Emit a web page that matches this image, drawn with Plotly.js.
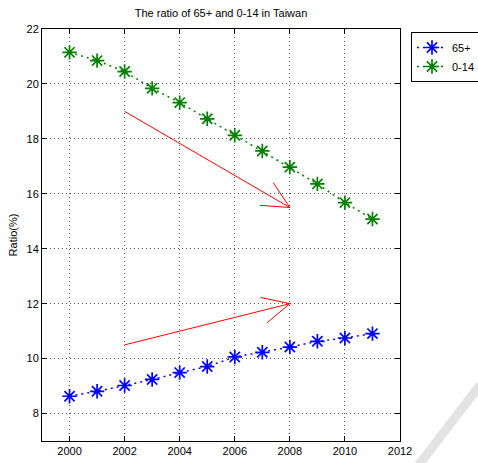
<!DOCTYPE html>
<html>
<head>
<meta charset="utf-8">
<script src="https://cdn.plot.ly/plotly-3.0.1.min.js"></script>
<style>html,body{margin:0;padding:0;background:#fff;}#chart{width:478px;height:463px;}</style>
</head>
<body>
<div id="chart"></div>
<script>
var years = [2000, 2001, 2002, 2003, 2004, 2005, 2006, 2007, 2008, 2009, 2010, 2011];
var ratio65 = [8.63, 8.81, 9.02, 9.24, 9.49, 9.71, 10.06, 10.23, 10.42, 10.63, 10.75, 10.91];
var ratio014 = [21.15, 20.85, 20.45, 19.84, 19.32, 18.73, 18.13, 17.56, 16.97, 16.36, 15.68, 15.08];
var arrowStartX = [2002, 2002];
var arrowStartY = [19.0, 10.5];
var arrowEndX = [2008, 2008];
var arrowEndY = [15.5, 12.0];

var W = 478, H = 463;
var M = {l: 42, r: 78, t: 29, b: 22, autoexpand: false};
var xr = [1999, 2012], yr = [7, 22];
var pw = W - M.l - M.r, ph = H - M.t - M.b;
var sx = pw / (xr[1] - xr[0]), sy = ph / (yr[1] - yr[0]);

var shapes = [];
for (var i = 0; i < arrowStartX.length; i++) {
  shapes.push({type: 'line', xref: 'x', yref: 'y', x0: arrowStartX[i], y0: arrowStartY[i], x1: arrowEndX[i], y1: arrowEndY[i], line: {color: '#ff0000', width: 1}});
  var dxp = (arrowEndX[i] - arrowStartX[i]) * sx;
  var dyp = (arrowEndY[i] - arrowStartY[i]) * sy;
  var ang = Math.atan2(dyp, dxp) + Math.PI;
  var L = 30, spread = 26 * Math.PI / 180;
  [ang - spread, ang + spread].forEach(function (a) {
    shapes.push({type: 'line', xref: 'x', yref: 'y', x0: arrowEndX[i], y0: arrowEndY[i],
      x1: arrowEndX[i] + L * Math.cos(a) / sx, y1: arrowEndY[i] + L * Math.sin(a) / sy,
      line: {color: '#ff0000', width: 1}});
  });
}
shapes.push({type: 'line', xref: 'paper', yref: 'paper',
  x0: (480 - M.l) / pw, y0: (H - M.b - 385) / ph, x1: (418 - M.l) / pw, y1: (H - M.b - 466) / ph,
  line: {color: '#e3e3e3', width: 9}, layer: 'below'});

var traces = [
  {x: years, y: ratio65, name: '65+', mode: 'lines+markers', type: 'scatter',
   line: {color: '#0000ff', width: 1.5, dash: '2px,4px'},
   marker: {symbol: 'asterisk-open', size: 12, color: '#0000ff', line: {color: '#0000ff', width: 1.7}}},
  {x: years, y: ratio014, name: '0-14', mode: 'lines+markers', type: 'scatter',
   line: {color: '#008000', width: 1.5, dash: '2px,4px'},
   marker: {symbol: 'asterisk-open', size: 12, color: '#008000', line: {color: '#008000', width: 1.7}}}
];

var axisCommon = {
  showline: true, linecolor: '#000', linewidth: 1, mirror: 'ticks',
  ticks: 'inside', ticklen: 5, tickcolor: '#000', tickwidth: 1,
  showgrid: true, gridcolor: '#555', gridwidth: 1, griddash: '1px,3px',
  zeroline: false, tickfont: {family: 'Liberation Sans, Arial, sans-serif', size: 11, color: '#000'}
};

var layout = {
  width: W, height: H, margin: M,
  paper_bgcolor: '#fff', plot_bgcolor: '#fff',
  title: {text: 'The ratio of 65+ and 0-14 in Taiwan', font: {family: 'Liberation Sans, Arial, sans-serif', size: 11, color: '#000'}, x: (M.l + pw / 2) / W, xanchor: 'center', y: 1 - 13 / H, yanchor: 'middle'},
  xaxis: Object.assign({}, axisCommon, {range: xr, tick0: 2000, dtick: 2}),
  yaxis: Object.assign({}, axisCommon, {range: yr, tick0: 8, dtick: 2,
    title: {text: 'Ratio(%)', font: {family: 'Liberation Sans, Arial, sans-serif', size: 11, color: '#000'}, standoff: 6}}),
  legend: {x: (411 - M.l) / pw, xanchor: 'left', y: 1 - (32 - M.t) / ph, yanchor: 'top',
    bordercolor: '#000', borderwidth: 1, bgcolor: '#fff',
    font: {family: 'Liberation Sans, Arial, sans-serif', size: 11, color: '#000'},
    tracegroupgap: 0, itemwidth: 30},
  shapes: shapes,
  showlegend: true
};

Plotly.newPlot('chart', traces, layout, {displayModeBar: false, staticPlot: true});
</script>
</body>
</html>
